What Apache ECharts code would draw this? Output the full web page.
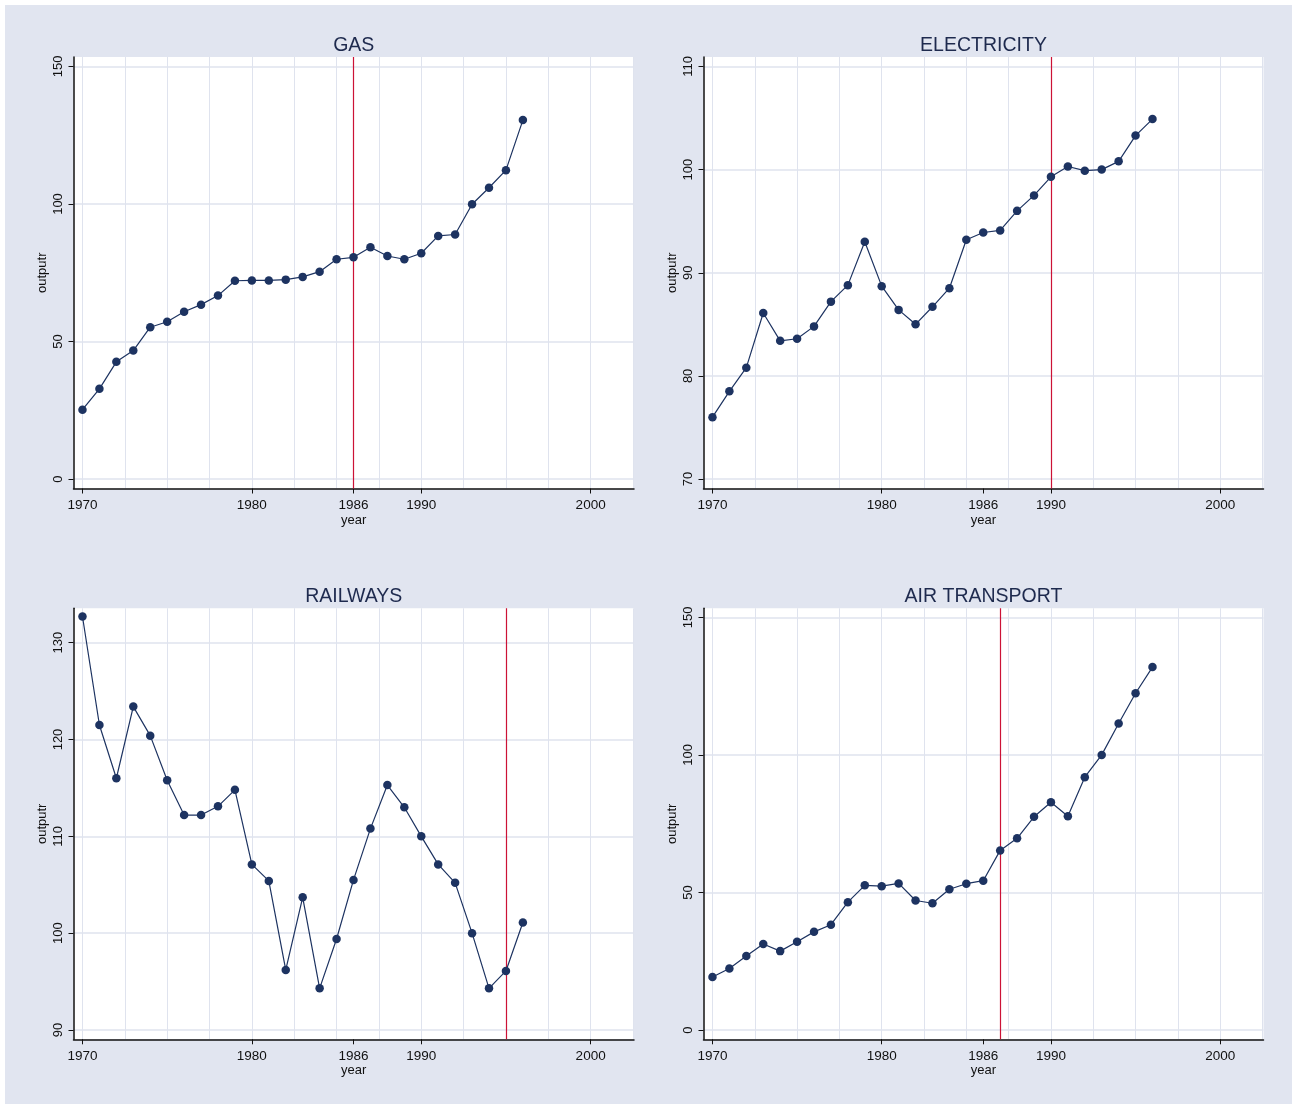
<!DOCTYPE html>
<html>
<head>
<meta charset="utf-8">
<script src="https://cdn.jsdelivr.net/npm/echarts@6/dist/echarts.min.js"></script>
<style>
html,body{margin:0;padding:0;background:#ffffff;width:1292px;height:1104px;overflow:hidden}
#c{position:absolute;left:5px;top:5px;width:1287px;height:1099px}
</style>
</head>
<body>
<div id="c"></div>
<script>
// ---- data ----
const years = [1970,1971,1972,1973,1974,1975,1976,1977,1978,1979,1980,1981,1982,1983,1984,1985,1986,1987,1988,1989,1990,1991,1992,1993,1994,1995,1996];
const gasOutput = [25.2,32.8,42.6,46.7,55.2,57.2,60.8,63.4,66.7,72.1,72.2,72.2,72.5,73.5,75.4,79.9,80.6,84.3,81.1,79.9,82.1,88.4,88.9,99.9,105.9,112.3,130.5];
const electricityOutput = [76.0,78.5,80.8,86.1,83.4,83.6,84.8,87.2,88.8,93.0,88.7,86.4,85.0,86.7,88.5,93.2,93.9,94.1,96.0,97.5,99.3,100.3,99.9,100.0,100.8,103.3,104.9];
const railwaysOutput = [132.7,121.5,116.0,123.4,120.4,115.8,112.2,112.2,113.1,114.8,107.1,105.4,96.2,103.7,94.3,99.4,105.5,110.8,115.3,113.0,110.0,107.1,105.2,100.0,94.3,96.1,101.1];
const airOutput = [19.3,22.4,26.9,31.3,28.7,32.1,35.7,38.3,46.5,52.6,52.3,53.3,47.1,46.1,51.2,53.2,54.3,65.3,69.7,77.5,82.8,77.7,91.9,100.0,111.4,122.4,131.9];

const panelTitles = ['GAS','ELECTRICITY','RAILWAYS','AIR TRANSPORT'];
const breakYears = [1986,1990,1995,1987];
const xTickLabels = [1970,1980,1986,1990,2000];
const xGridValues = [1970,1972.5,1975,1977.5,1980,1982.5,1985,1987.5,1990,1992.5,1995,1997.5,2000,2002.5];
const yTicksGas = [0,50,100,150];
const yTicksElectricity = [70,80,90,100,110];
const yTicksRailways = [90,100,110,120,130];
const yTicksAir = [0,50,100,150];

// ---- layout / style ----
const FONT = '"Liberation Sans", Arial, Helvetica, sans-serif';
const NAVY = '#1d3361';
const RED = '#cc1236';
const GRIDC = '#dfe3ee';
const BG = '#e1e5f0';

const panels = [
  {values: gasOutput, ticks: yTicksGas, yMin: -3.45, yMax: 153.45,
   grid: {left: 68.5, top: 52, width: 560.5, height: 431.5}, titleTop: 31},
  {values: electricityOutput, ticks: yTicksElectricity, yMin: 69.08, yMax: 110.92,
   grid: {left: 698.5, top: 52, width: 560, height: 431.5}, titleTop: 31},
  {values: railwaysOutput, ticks: yTicksRailways, yMin: 89.04, yMax: 133.55,
   grid: {left: 68.5, top: 603.3, width: 560.5, height: 431}, titleTop: 582},
  {values: airOutput, ticks: yTicksAir, yMin: -3.34, yMax: 153.27,
   grid: {left: 698.5, top: 603.3, width: 560, height: 431}, titleTop: 582}
];

const X_MIN = 1969.47, X_MAX = 2002.56;

const option = {
  backgroundColor: BG,
  animation: false,
  title: [], grid: [], xAxis: [], yAxis: [], series: []
};

panels.forEach((p, i) => {
  const g = p.grid;
  option.title.push({
    text: panelTitles[i],
    left: g.left + g.width / 2,
    top: p.titleTop,
    textAlign: 'center',
    padding: 0,
    textStyle: {fontFamily: FONT, fontSize: 19.5, fontWeight: 'normal', color: '#1e2a4e'}
  });
  option.grid.push(Object.assign({show: true, backgroundColor: '#ffffff', borderWidth: 0, containLabel: false}, g));
  // main x axis
  option.xAxis.push({
    type: 'value', gridIndex: i, position: 'bottom', min: X_MIN, max: X_MAX,
    name: 'year', nameLocation: 'middle', nameGap: 25,
    nameTextStyle: {fontFamily: FONT, fontSize: 13, color: '#111'},
    axisLine: {show: true, onZero: false, lineStyle: {color: '#111', width: 1.5}},
    axisTick: {show: true, length: 5, customValues: xTickLabels, lineStyle: {color: '#111', width: 1}},
    axisLabel: {show: true, customValues: xTickLabels, margin: 10, fontFamily: FONT, fontSize: 13.5, color: '#111',
      formatter: v => String(Math.round(v))},
    splitLine: {show: false}
  });
  // helper axis for vertical grid lines
  option.xAxis.push({
    type: 'value', gridIndex: i, position: 'top', min: X_MIN, max: X_MAX,
    axisLine: {show: false}, axisLabel: {show: false},
    axisTick: {show: false, customValues: xGridValues},
    splitLine: {show: true, lineStyle: {color: GRIDC, width: 1}}
  });
  option.yAxis.push({
    type: 'value', gridIndex: i, min: p.yMin, max: p.yMax,
    name: 'outputr', nameLocation: 'middle', nameGap: 25,
    nameTextStyle: {fontFamily: FONT, fontSize: 13, color: '#111'},
    axisLine: {show: true, onZero: false, lineStyle: {color: '#111', width: 1.5}},
    axisTick: {show: true, length: 5, customValues: p.ticks, lineStyle: {color: '#111', width: 1}},
    axisLabel: {show: true, customValues: p.ticks, rotate: 90, margin: 9, fontFamily: FONT, fontSize: 13, color: '#111'},
    splitLine: {show: true, lineStyle: {color: GRIDC, width: 1.5}}
  });
  // break line (drawn beneath the data)
  option.series.push({
    type: 'line', xAxisIndex: i * 2, yAxisIndex: i,
    data: [], z: 1, silent: true,
    markLine: {
      z: 1,
      silent: true, symbol: ['none', 'none'], label: {show: false},
      lineStyle: {color: RED, width: 1.2, type: 'solid'},
      data: [{xAxis: breakYears[i]}]
    }
  });
  option.series.push({
    type: 'line', xAxisIndex: i * 2, yAxisIndex: i,
    data: years.map((y, k) => [y, p.values[k]]),
    symbol: 'circle', symbolSize: 8.5,
    lineStyle: {color: NAVY, width: 1.2},
    itemStyle: {color: NAVY},
    z: 3
  });
});

const chart = echarts.init(document.getElementById('c'), null, {renderer: 'canvas'});
chart.setOption(option);
</script>
</body>
</html>
